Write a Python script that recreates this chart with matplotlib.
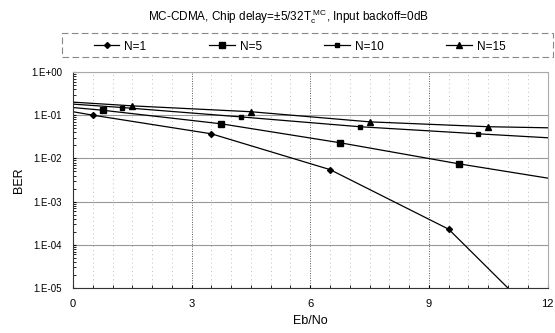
import numpy as np
import matplotlib.pyplot as plt
from matplotlib.patches import Rectangle
from matplotlib.ticker import FixedLocator, LogLocator, NullFormatter

plt.rcParams['font.family'] = ['Liberation Sans', 'DejaVu Sans']
plt.rcParams['mathtext.fontset'] = 'custom'
plt.rcParams['mathtext.rm'] = 'Liberation Sans'

# Данные
x_n1 = [0, 0.5, 3.5, 6.5, 9.5, 11.0]
ber_n1 = [0.12, 0.10, 0.037, 0.0055, 2.3e-4, 1.0e-5]

x_n5 = [0, 0.75, 3.75, 6.75, 9.75, 12]
ber_n5 = [0.15, 0.13, 0.063, 0.023, 0.0075, 0.0035]

x_n10 = [0, 1.25, 4.25, 7.25, 10.25, 12]
ber_n10 = [0.18, 0.15, 0.091, 0.054, 0.037, 0.030]

x_n15 = [0, 1.5, 4.5, 7.5, 10.5, 12]
ber_n15 = [0.20, 0.164, 0.12, 0.07, 0.054, 0.051]

labels = ['N=1', 'N=5', 'N=10', 'N=15']
y_ticks = [1e0, 1e-1, 1e-2, 1e-3, 1e-4, 1e-5]
y_tick_labels = ['1.E+00', '1.E-01', '1.E-02', '1.E-03', '1.E-04', '1.E-05']
x_ticks = [0, 3, 6, 9, 12]

fig = plt.figure(figsize=(5.55, 3.33), dpi=100)
ax = fig.add_axes([0.1315, 0.135, 0.855, 0.649])

series = [(x_n1, ber_n1, 'D', 3.0), (x_n5, ber_n5, 's', 3.8),
          (x_n10, ber_n10, 's', 3.0), (x_n15, ber_n15, '^', 3.8)]
for (xs, ys, mk, ms), lab in zip(series, labels):
    ax.plot(xs, ys, color='black', lw=0.9, marker=mk, ms=ms,
            markevery=list(range(1, len(xs) - 1)), label=lab)

ax.set_yscale('log')
ax.set_ylim(1e-5, 1)
ax.set_xlim(0, 12)
ax.yaxis.set_major_locator(FixedLocator(y_ticks))
ax.set_yticklabels(y_tick_labels)
ax.yaxis.set_minor_locator(LogLocator(base=10, subs=np.arange(2, 10)))
ax.yaxis.set_minor_formatter(NullFormatter())
ax.set_xticks(x_ticks)
ax.xaxis.set_minor_locator(FixedLocator(np.arange(0, 12.01, 0.5)))

ax.grid(which='major', axis='y', color='#999999', lw=0.8)
ax.grid(which='major', axis='x', color='#555555', lw=0.7, ls=(0, (1, 1.5)))
ax.grid(which='minor', axis='x', color='#aaaaaa', lw=0.6, ls=(0, (1, 4)))
ax.tick_params(axis='both', which='both', length=2, direction='in', labelsize=7)
ax.tick_params(axis='x', pad=8, labelsize=8)
ax.tick_params(axis='y', pad=8)
for side in ['top', 'right']:
    ax.spines[side].set_color('#aaaaaa')
    ax.spines[side].set_linestyle((0, (1, 1)))
for side in ['left', 'bottom']:
    ax.spines[side].set_color('#333333')

ax.set_xlabel('Eb/No', fontsize=9, labelpad=4)
ax.set_ylabel('BER', fontsize=9, labelpad=4)

fig.text(0.52, 0.95, r'MC-CDMA, Chip delay=$\pm$5/32T$_{\rm c}^{\ \rm MC}$, Input backoff=0dB',
         ha='center', va='center', fontsize=8.5)

# рамка легенды отдельно
fig.patches.append(Rectangle((0.112, 0.828), 0.885, 0.072, transform=fig.transFigure,
                             fill=False, edgecolor='#888888', lw=0.8, ls=(0, (6, 3))))
leg = fig.legend(loc='lower left', bbox_to_anchor=(0.16, 0.828, 0.76, 0.072),
                 ncol=4, mode='expand', frameon=False,
                 fontsize=8.5, handlelength=2.2, borderaxespad=0, handletextpad=0.4)

fig.savefig('out.png', dpi=100)
